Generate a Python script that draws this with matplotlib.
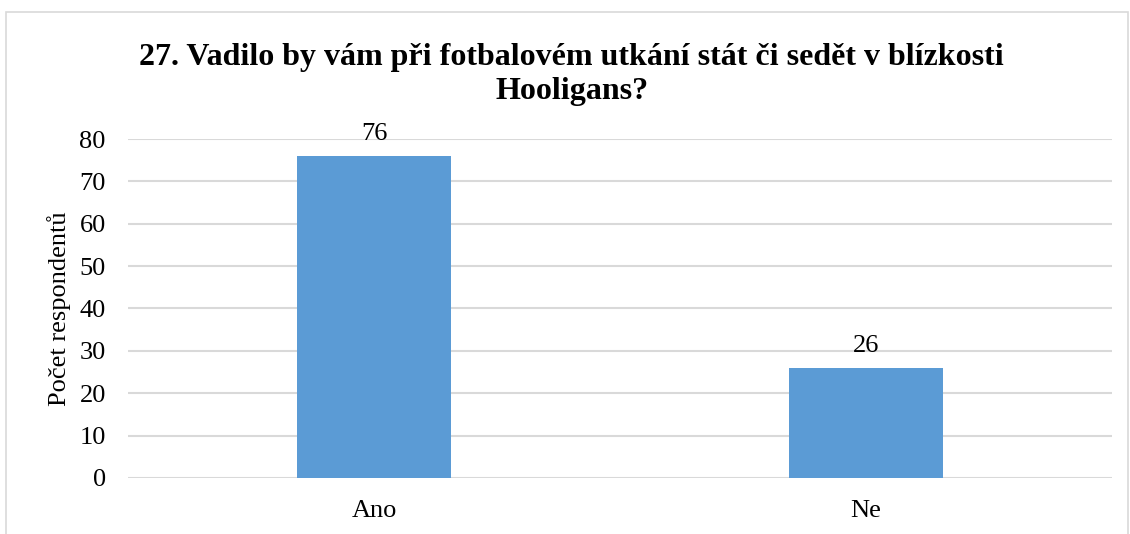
import matplotlib.pyplot as plt
from matplotlib.patches import Rectangle

categories = ['Ano', 'Ne']
values = [76, 26]
yticks = [0, 10, 20, 30, 40, 50, 60, 70, 80]

plt.rcParams['font.family'] = ['Liberation Serif', 'DejaVu Serif']

fig = plt.figure(figsize=(11.3, 5.34), dpi=100)
ax = fig.add_axes([0.1133, 0.1049, 0.8708, 0.6348])

x = list(range(len(categories)))
bars = ax.bar(x, values, width=0.313, color='#5b9bd5', zorder=3)
for b, v in zip(bars, values):
    ax.annotate(str(v), (b.get_x() + b.get_width() / 2, v), xytext=(0, 8),
                textcoords='offset points', ha='center', va='bottom', fontsize=19)

ax.set_xlim(-0.5, 1.5)
ax.set_ylim(0, 80)
ax.set_yticks(yticks)
ax.set_xticks(x)
ax.set_xticklabels(categories)
ax.tick_params(axis='both', length=0, labelsize=19)
ax.tick_params(axis='y', pad=16)
ax.tick_params(axis='x', pad=16)
ax.grid(axis='y', color='#d9d9d9', linewidth=1.5, zorder=0)
for s in ax.spines.values():
    s.set_visible(False)

ax.set_ylabel('Počet respondentů', fontsize=19, labelpad=6)

fig.text(0.506, 0.8605, '27. Vadilo by vám při fotbalovém utkání stát či sedět v blízkosti\nHooligans?',
         ha='center', va='center', fontsize=23, fontweight='bold', linespacing=1.2)

fig.patches.append(Rectangle((6 / 1130, -0.1), 1122 / 1130, 1.1 - 12 / 534, transform=fig.transFigure,
                             fill=False, edgecolor='#d9d9d9', linewidth=1.2))

fig.savefig('out.png', dpi=100)
